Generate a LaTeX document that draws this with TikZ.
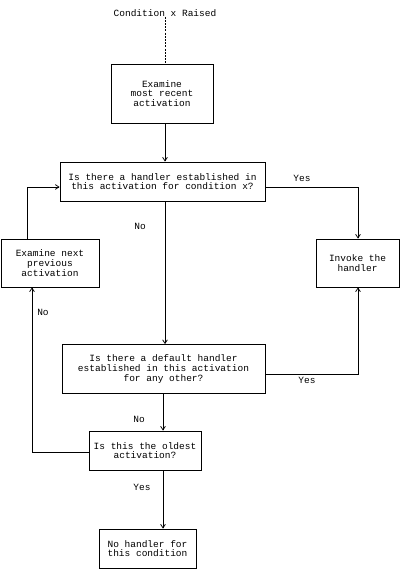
\documentclass[tikz,border=0pt]{standalone}
\usepackage{fontspec}
\setmainfont{Liberation Mono}
\usetikzlibrary{arrows.meta, positioning, calc}

\begin{document}
\begin{tikzpicture}[
    x=1pt, y=-1pt,
    >={Straight Barb[length=1.3mm,width=1.7mm]},
    box/.style={rectangle, draw, line width=0.75pt, inner sep=0pt, align=center, font=\fontsize{9.5}{9.7}\selectfont},
    lbl/.style={inner sep=0pt, font=\fontsize{9.5}{9.7}\selectfont},
    conn/.style={->, line width=0.75pt},
    flow/.style={line width=0.6pt}
]
\useasboundingbox (0,0) rectangle (400,577);

% X positions
\def\xmain{165}
\def\xlow{163}
\def\xright{358}

% ---------- Start ----------
\node[lbl] (raised) at (165,13) {Condition x Raised};
\node[box, minimum width=102pt, minimum height=59pt] (recent) at (162,93.5) {Examine\\most recent\\activation};

% ---------- Questions ----------
\node[box, minimum width=205pt, minimum height=39pt] (handlerq) at (162.5,181.5) {Is there a handler established in\\this activation for condition x?};
\node[box, minimum width=203pt, minimum height=49pt] (defaultq) at (163.5,369) {Is there a default handler\\established in this activation\\for any other?};
\node[box, minimum width=112pt, minimum height=39pt] (oldestq) at (145,450.5) {Is this the oldest\\activation?};

% ---------- Actions ----------
\node[box, minimum width=98pt, minimum height=48pt] (previous) at (50,263) {Examine next\\previous\\activation};
\node[box, minimum width=83pt, minimum height=48pt] (invoke) at (357.5,263) {Invoke the\\handler};
\node[box, minimum width=97pt, minimum height=39pt] (nohandler) at (147.5,548.5) {No handler for\\this condition};

% ---------- Labels ----------
\node[lbl] (yes1) at (302,178) {Yes};
\node[lbl] (no1) at (140,226) {No};
\node[lbl] (no2) at (43,312) {No};
\node[lbl] (yes2) at (307,380) {Yes};
\node[lbl] (no3) at (139,419) {No};
\node[lbl] (yes3) at (142,487) {Yes};

% helper coordinates
\coordinate (spine) at (\xmain,0);
\coordinate (lowspine) at (\xlow,0);
\coordinate (rspine) at (\xright,0);
\coordinate (loopup) at (27,187);
\coordinate (loopdown) at (32,452);
\coordinate (yesout) at (\xright,374);

% ---------- Connections ----------
\draw[flow, dash pattern=on 2pt off 1.2pt] (raised.south -| spine) -- (recent.north -| spine);
\draw[conn] (recent.south -| spine) -- (handlerq.north -| spine);
\draw[conn] (handlerq.south -| spine) -- (defaultq.north -| spine);
\draw[conn] (defaultq.south -| lowspine) -- (oldestq.north -| lowspine);
\draw[conn] (oldestq.south -| lowspine) -- (nohandler.north -| lowspine);

% yes branches
\draw[conn] (handlerq.east |- loopup) -- (rspine |- loopup) -- (invoke.north -| rspine);
\draw[conn] (defaultq.east |- yesout) -- (yesout) -- (invoke.south -| rspine);

% loop back
\draw[conn] (oldestq.west |- loopdown) -- (loopdown) -- (previous.south -| loopdown);
\draw[conn] (previous.north -| loopup) -- (loopup) -- (handlerq.west |- loopup);

\end{tikzpicture}
\end{document}
